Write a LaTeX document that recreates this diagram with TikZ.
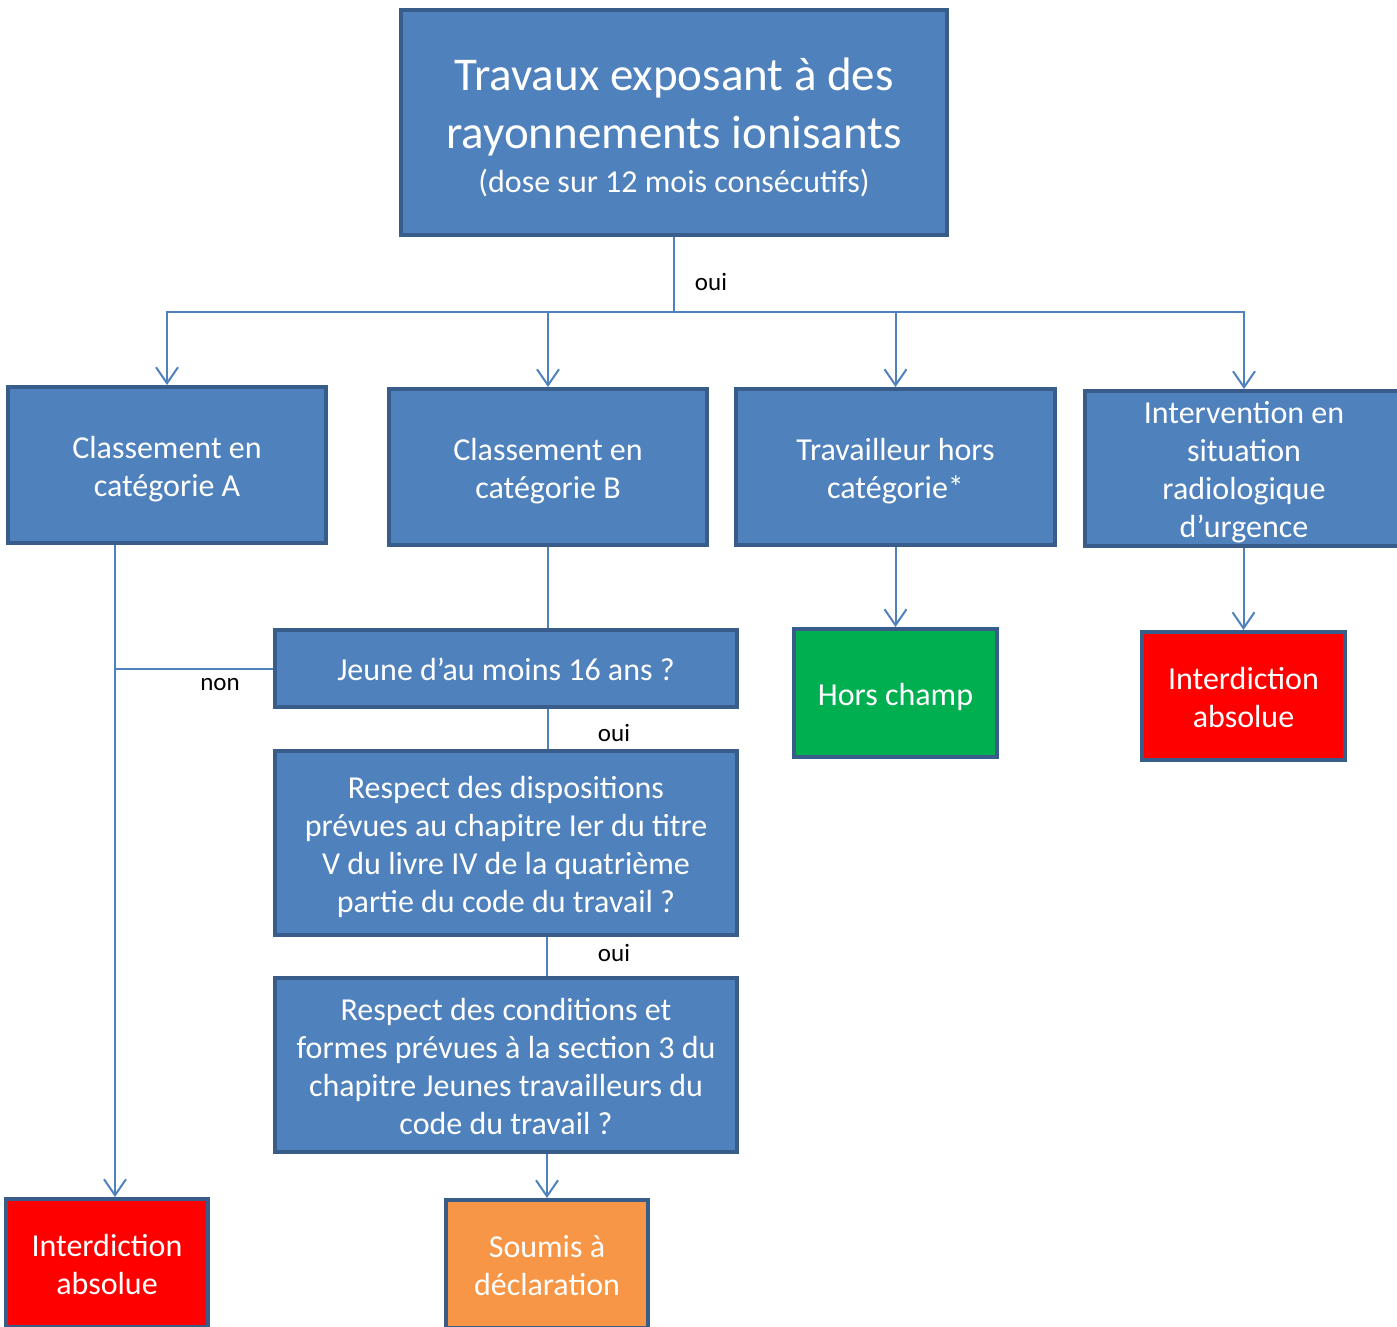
\documentclass[tikz,border=0pt]{standalone}
\usepackage{fontspec}
\setmainfont{Carlito}
\usetikzlibrary{arrows.meta}
\definecolor{boxblue}{HTML}{4F81BD}
\definecolor{boxedge}{HTML}{385D8A}
\definecolor{boxred}{HTML}{FF0000}
\definecolor{boxgreen}{HTML}{00B050}
\definecolor{boxorange}{HTML}{F79646}
\newcommand\bx[2][-4.5pt]{\raisebox{#1}[\height][\depth]{\begin{tabular}{@{}c@{}}#2\end{tabular}}}
\tikzset{
  box/.style={draw=boxedge, line width=4pt, fill=boxblue, text=white,
    inner sep=0pt, font=\fontsize{32}{38}\selectfont},
  conn/.style={draw=boxblue, line width=2pt},
  arr/.style={conn, -{Straight Barb[length=16pt,width=22pt,line width=2pt]}},
  lab/.style={text=black, font=\fontsize{25}{30}\selectfont, inner sep=0pt}
}
\begin{document}
\begin{tikzpicture}[x=1pt,y=-1pt]
\path[use as bounding box] (0,0) rectangle (1397,1326);
\node[box, minimum width=546, minimum height=225, font=\fontsize{47}{58}\selectfont] (top) at (674,122.5)
  {\bx[-7pt]{Travaux exposant à des\\
   rayonnements ionisants\\[-14pt]
   \fontsize{32}{38}\selectfont (dose sur 12 mois consécutifs)}};
\node[box, minimum width=318, minimum height=156] (A) at (167,465) {\bx[-5pt]{Classement en\\catégorie A}};
\node[box, minimum width=318, minimum height=156] (B) at (548,467) {\bx{Classement en\\catégorie B}};
\node[box, minimum width=319, minimum height=156] (HC) at (895.5,467) {\bx{Travailleur hors\\catégorie*}};
\node[box, minimum width=318, minimum height=155] (INT) at (1244,468.5) {\bx{Intervention en\\situation\\radiologique\\d’urgence}};
\node[box, minimum width=462, minimum height=77] (J) at (506,668.5) {\bx{Jeune d’au moins 16 ans ?}};
\node[box, minimum width=462, minimum height=184] (R1) at (506,843)
  {\bx{Respect des dispositions\\prévues au chapitre Ier du titre\\V du livre IV de la quatrième\\partie du code du travail ?}};
\node[box, minimum width=462, minimum height=174] (R2) at (506,1065)
  {\bx{Respect des conditions et\\formes prévues à la section 3 du\\chapitre Jeunes travailleurs du\\code du travail ?}};
\node[box, fill=boxorange, minimum width=202, minimum height=128] (S) at (547,1264) {\bx{Soumis à\\déclaration}};
\node[box, fill=boxred, minimum width=202, minimum height=128] (IA) at (107,1263) {\bx{Interdiction\\absolue}};
\node[box, fill=boxgreen, minimum width=203, minimum height=128] (HCH) at (895.5,693) {\bx[-5pt]{Hors champ}};
\node[box, fill=boxred, minimum width=203, minimum height=128] (IB) at (1243.5,696) {\bx[-5pt]{Interdiction\\absolue}};
\coordinate (jn) at (674,312);
\coordinate (ax) at (115,0);
\coordinate (bx) at (548,0);
\coordinate (cx) at (547,0);
\draw[conn] (top.south) -- (jn);
\draw[arr] (jn) -| (A.north);
\draw[arr] (jn) -| (B.north);
\draw[arr] (jn) -| (HC.north);
\draw[arr] (jn) -| (INT.north);
\node[lab] (l1) at (711,282) {oui};
\draw[arr] (A.south -| ax) -- (IA.north -| ax);
\draw[conn] (B.south) -- (J.north -| B.south);
\draw[conn] (J.west) -- (J.west -| ax);
\node[lab] (l2) at (220,685) {non};
\draw[conn] (J.south -| bx) -- (R1.north -| bx);
\node[lab] (l3) at (614,733) {oui};
\draw[conn] (R1.south -| cx) -- (R2.north -| cx);
\node[lab] (l4) at (614,953) {oui};
\draw[arr] (R2.south -| S.north) -- (S.north);
\draw[arr] (HC.south) -- (HCH.north);
\draw[arr] (INT.south -| IB.north) -- (IB.north);
\end{tikzpicture}
\end{document}
